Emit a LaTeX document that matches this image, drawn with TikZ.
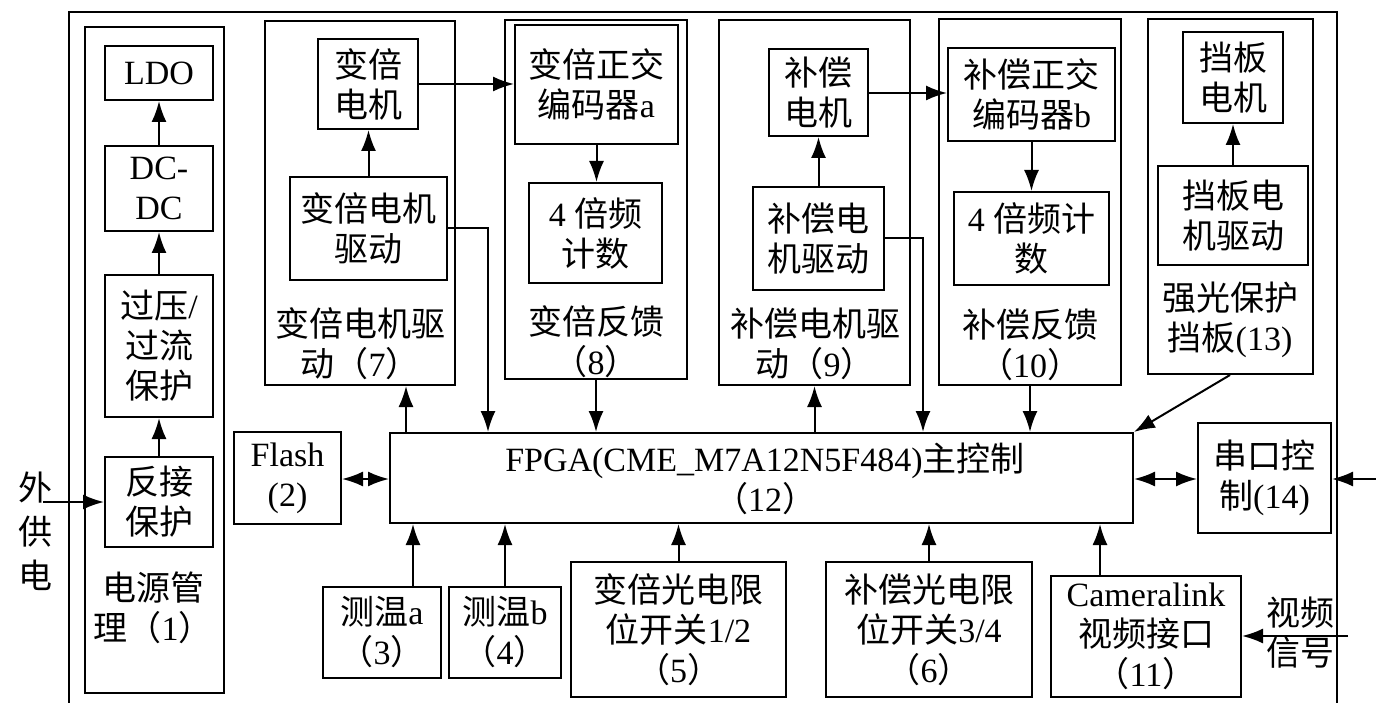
\documentclass[tikz,border=0pt]{standalone}
\usepackage{fontspec}
\setmainfont{Liberation Serif}
\newfontfamily\cjk{Noto Sans CJK SC}
\usetikzlibrary{arrows.meta,calc}
\newcommand\zh[1]{{\cjk #1}}
\newcommand\bx[6]{\node[bx, minimum width={(#4-#2)*1pt}, minimum height={(#5-#3)*1pt}] (#1) at ({(#2+#4)/2},{(#3+#5)/2}) {#6};}
\tikzset{
  x=1pt, y=-1pt,
  bx/.style={draw, line width=2pt, inner sep=0pt, align=center, font=\fontsize{34}{40}\selectfont},
  lbl/.style={inner sep=0pt, align=center, font=\fontsize{34}{40}\selectfont},
  arr/.style={line width=2pt, -{Latex[length=21pt,width=15pt]}},
  darr/.style={line width=2pt, {Latex[length=21pt,width=15pt]}-{Latex[length=21pt,width=15pt]}},
}
\begin{document}
\begin{tikzpicture}
\useasboundingbox (0,0) rectangle (1376,703);
% outer frame
\draw[line width=2pt] (69,703) -- (69,12) -- (1337,12) -- (1337,703);
% power management (1)
\bx{pwr}{85}{27}{224}{693}{}
\bx{ldo}{105}{46}{213}{100}{LDO}
\bx{dcdc}{105}{146}{213}{231}{DC-\\DC}
\bx{ovp}{105}{275}{213}{417}{\zh{过压}/\\\zh{过流}\\\zh{保护}}
\bx{rev}{105}{457}{213}{547}{\zh{反接}\\\zh{保护}}
\node[lbl] (pwrl) at (153,608) {\zh{电源管}\\\zh{理（}1\zh{）}};
\node[lbl, font=\fontsize{34}{44}\selectfont] (ext) at (36,531) {\zh{外}\\\zh{供}\\\zh{电}};
\coordinate (extp) at (43,502);
% zoom motor drive (7)
\bx{g7}{265}{21}{455}{385}{}
\bx{zm}{318}{39}{418}{129}{\zh{变倍}\\\zh{电机}}
\bx{zmd}{290}{177}{447}{280}{\zh{变倍电机}\\\zh{驱动}}
\node[lbl] (g7l) at (360,344) {\zh{变倍电机驱}\\\zh{动（}7\zh{）}};
% zoom feedback (8)
\bx{g8}{505}{20}{687}{379}{}
\bx{enca}{515}{25}{678}{144}{\zh{变倍正交}\\\zh{编码器}a}
\bx{cnta}{529}{183}{662}{283}{4 \zh{倍频}\\\zh{计数}}
\node[lbl] (g8l) at (596,342) {\zh{变倍反馈}\\\zh{（}8\zh{）}};
% comp motor drive (9)
\bx{g9}{719}{20}{910}{385}{}
\bx{bm}{769}{49}{868}{136}{\zh{补偿}\\\zh{电机}}
\bx{bmd}{753}{187}{884}{290}{\zh{补偿电}\\\zh{机驱动}}
\node[lbl] (g9l) at (815,344) {\zh{补偿电机驱}\\\zh{动（}9\zh{）}};
% comp feedback (10)
\bx{g10}{939}{19}{1121}{385}{}
\bx{encb}{948}{48}{1115}{141}{\zh{补偿正交}\\\zh{编码器}b}
\bx{cntb}{954}{192}{1109}{285}{4 \zh{倍频计}\\\zh{数}}
\node[lbl] (g10l) at (1030,345) {\zh{补偿反馈}\\\zh{（}10\zh{）}};
% shutter (13)
\bx{g13}{1148}{19}{1313}{374}{}
\bx{db}{1183}{32}{1283}{123}{\zh{挡板}\\\zh{电机}}
\bx{dbd}{1158}{166}{1308}{265}{\zh{挡板电}\\\zh{机驱动}}
\node[lbl] (g13l) at (1230,320) {\zh{强光保护}\\\zh{挡板}(13)};
% FPGA
\bx{fpga}{390}{433}{1133}{523}{}
\node[lbl] (fpgal) at (765,479) {FPGA(CME\_M7A12N5F484)\zh{主控制}\\\zh{（}12\zh{）}};
\bx{flash}{234}{432}{341}{524}{Flash\\(2)}
\bx{uart}{1198}{423}{1331}{533}{\zh{串口控}\\\zh{制}(14)}
% bottom row
\bx{ta}{323}{587}{441}{678}{\zh{测温}a\\\zh{（}3\zh{）}}
\bx{tb}{449}{587}{561}{678}{\zh{测温}b\\\zh{（}4\zh{）}}
\bx{ls1}{571}{562}{786}{697}{\zh{变倍光电限}\\\zh{位开关}1/2\\\zh{（}5\zh{）}}
\bx{ls2}{826}{562}{1032}{697}{\zh{补偿光电限}\\\zh{位开关}3/4\\\zh{（}6\zh{）}}
\bx{cam}{1051}{576}{1241}{697}{Cameralink\\\zh{视频接口}\\\zh{（}11\zh{）}}
\node[lbl] (vid) at (1300,633) {\zh{视频}\\\zh{信号}};
\coordinate (vidp) at (1348,636);
\coordinate (uartp) at (1376,479);
% column coordinates
\coordinate (c7a) at (406,0);
\coordinate (c7b) at (488,0);
\coordinate (c9b) at (923,0);
\coordinate (c13) at (1230,0);
\coordinate (cta) at (413,0);
\coordinate (ccam) at (1100,0);
% power arrows
\draw[arr] (extp) -- (extp -| rev.west);
\draw[arr] (rev.north) -- (ovp.south);
\draw[arr] (ovp.north) -- (dcdc.south);
\draw[arr] (dcdc.north) -- (ldo.south);
% group 7/8
\draw[arr] (zmd.north) -- (zmd.north |- zm.south);
\draw[arr] (zm.east |- 0,84) -- (enca.west |- 0,84);
\draw[arr] (enca.south) -- (enca.south |- cnta.north);
\draw[arr] (zmd.east) -| (fpga.north -| c7b);
\draw[arr] (fpga.north -| c7a) -- (g7.south -| c7a);
\draw[arr] (g8.south) -- (fpga.north -| g8.south);
% group 9/10
\draw[arr] (bmd.north) -- (bmd.north |- bm.south);
\draw[arr] (bm.east |- 0,93) -- (encb.west |- 0,93);
\draw[arr] (encb.south) -- (encb.south |- cntb.north);
\draw[arr] (bmd.east) -| (fpga.north -| c9b);
\draw[arr] (fpga.north -| g9.south) -- (g9.south);
\draw[arr] (g10.south) -- (fpga.north -| g10.south);
% group 13
\draw[arr] (dbd.north) -- (dbd.north |- db.south);
\draw[arr] (g13.south -| c13) -- (fpga.north east);
% side links
\draw[darr] (flash.east |- 0,479) -- (fpga.west |- 0,479);
\draw[darr] (fpga.east |- 0,479) -- (uart.west |- 0,479);
\draw[arr] (uartp) -- (uart.east |- uartp);
% bottom arrows
\draw[arr] (ta.north -| cta) -- (fpga.south -| cta);
\draw[arr] (tb.north) -- (fpga.south -| tb.north);
\draw[arr] (ls1.north) -- (fpga.south -| ls1.north);
\draw[arr] (ls2.north) -- (fpga.south -| ls2.north);
\draw[arr] (cam.north -| ccam) -- (fpga.south -| ccam);
\draw[arr] (vidp) -- (cam.east |- vidp);
\end{tikzpicture}
\end{document}
